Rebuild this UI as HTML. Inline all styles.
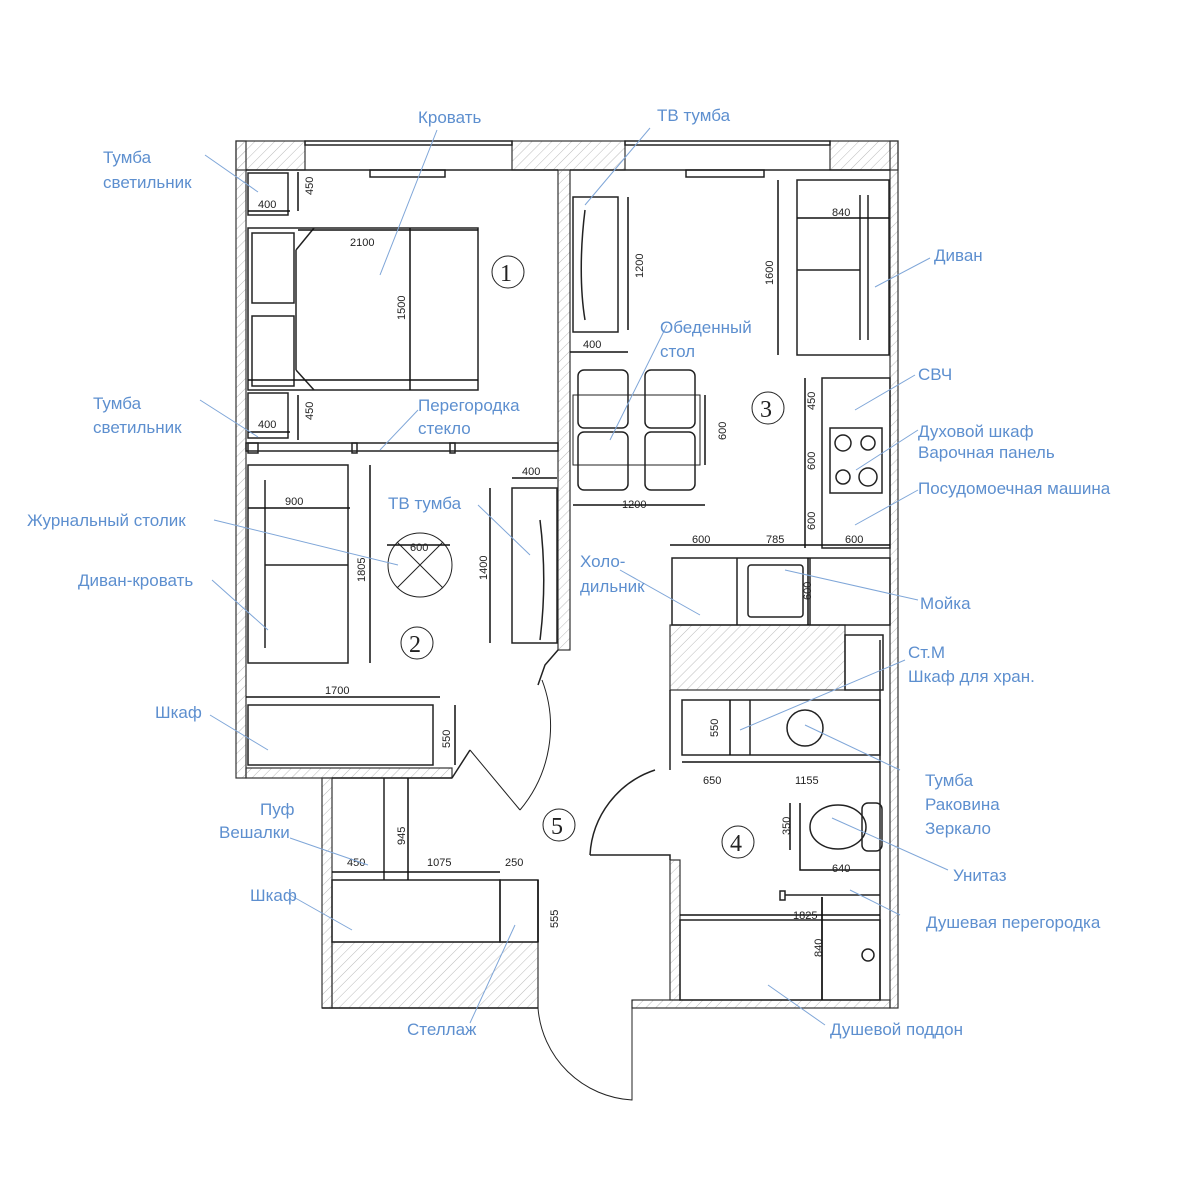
<!DOCTYPE html>
<html><head><meta charset="utf-8"><style>
html,body{margin:0;padding:0;background:#fff}
svg{display:block}
.l{font-family:"Liberation Sans",sans-serif;font-size:17px;fill:#5d8fcf}
.d{font-family:"Liberation Sans",sans-serif;font-size:11px;fill:#222}
.n{font-family:"Liberation Serif",serif;font-size:24px;fill:#222}
</style></head><body>
<svg width="1200" height="1189" viewBox="0 0 1200 1189" xmlns="http://www.w3.org/2000/svg">
<defs>
<pattern id="h" width="7" height="7" patternUnits="userSpaceOnUse" patternTransform="rotate(45)">
<line x1="0" y1="0" x2="0" y2="7" stroke="#bbb" stroke-width="1"/></pattern>
</defs>
<g stroke="#222" fill="none" stroke-width="1.5">
<!-- hatched walls -->
<g fill="url(#h)" stroke="#333" stroke-width="1.2">
<rect x="236" y="141" width="69" height="29"/>
<rect x="512" y="141" width="113" height="29"/>
<rect x="830" y="141" width="68" height="29"/>
<rect x="236" y="141" width="10" height="637"/>
<rect x="890" y="141" width="8" height="867"/>
<rect x="558" y="170" width="12" height="480"/>
<rect x="246" y="768" width="206" height="10"/>
<rect x="322" y="778" width="10" height="230"/>
<rect x="332" y="942" width="206" height="66"/>
<rect x="632" y="1000" width="258" height="8"/>
<rect x="670" y="625" width="175" height="65"/>
<rect x="670" y="860" width="10" height="140"/>
</g>
<!-- top windows -->
<rect x="305" y="141" width="207" height="4"/><rect x="625" y="141" width="205" height="4"/>
<rect x="370" y="170" width="75" height="7"/><rect x="686" y="170" width="78" height="7"/>
<line x1="246" y1="170" x2="558" y2="170"/><line x1="570" y1="170" x2="890" y2="170"/>
<!-- room1 furniture -->
<rect x="248" y="173" width="40" height="42"/><rect x="248" y="393" width="40" height="45"/>
<rect x="248" y="228" width="230" height="162"/>
<rect x="252" y="233" width="42" height="70"/><rect x="252" y="316" width="42" height="70"/>
<path d="M296 250 L314 228 M296 370 L314 390 M296 250 V370"/>
<!-- glass partition -->
<rect x="246" y="443" width="312" height="8"/>
<rect x="248" y="443" width="10" height="10"/><rect x="352" y="443" width="5" height="10"/><rect x="450" y="443" width="5" height="10"/>
<!-- room 2 -->
<rect x="248" y="465" width="100" height="198"/><line x1="265" y1="480" x2="265" y2="648"/><line x1="265" y1="565" x2="348" y2="565"/>
<circle cx="420" cy="565" r="32" stroke-width="1"/><path d="M397 542 L443 588 M443 542 L397 588" stroke-width="1"/>
<rect x="512" y="488" width="45" height="155"/>
<path d="M540 520 C545 560 545 600 540 640"/>
<rect x="248" y="705" width="185" height="60"/>
<path d="M558 650 L545 665 L538 685 M452 778 L470 750"/>
<path d="M470 750 L520 810 M542 680 A130 130 0 0 1 520 810" stroke-width="1"/>
<!-- room 3 -->
<rect x="573" y="197" width="45" height="135"/><path d="M585 210 C580 250 580 290 585 320"/>
<rect x="797" y="180" width="92" height="175"/><line x1="860" y1="195" x2="860" y2="340"/><line x1="868" y1="195" x2="868" y2="340"/><line x1="797" y1="270" x2="860" y2="270"/>
<rect x="573" y="395" width="127" height="70" stroke-width="1"/>
<rect x="578" y="370" width="50" height="58" rx="6"/><rect x="645" y="370" width="50" height="58" rx="6"/>
<rect x="578" y="432" width="50" height="58" rx="6"/><rect x="645" y="432" width="50" height="58" rx="6"/>
<rect x="822" y="378" width="68" height="170"/><rect x="830" y="428" width="52" height="65"/>
<circle cx="843" cy="443" r="8"/><circle cx="868" cy="443" r="7"/><circle cx="843" cy="477" r="7"/><circle cx="868" cy="477" r="9"/>
<rect x="672" y="558" width="218" height="67"/><line x1="737" y1="558" x2="737" y2="625"/><line x1="810" y1="558" x2="810" y2="625"/>
<rect x="748" y="565" width="55" height="52" rx="3"/>
<rect x="845" y="635" width="38" height="55"/>
<!-- bathroom -->
<rect x="682" y="700" width="198" height="55"/><line x1="750" y1="700" x2="750" y2="755"/>
<circle cx="805" cy="728" r="18"/>
<line x1="670" y1="690" x2="670" y2="770"/><line x1="880" y1="640" x2="880" y2="1000"/>
<path d="M655 770 A95 95 0 0 0 590 855 M590 855 H670 V860"/>
<ellipse cx="838" cy="827" rx="28" ry="22"/><rect x="862" y="803" width="20" height="48" rx="6"/>
<line x1="785" y1="895" x2="880" y2="895"/><rect x="780" y="891" width="5" height="9"/>
<rect x="680" y="920" width="200" height="80"/>
<line x1="822" y1="897" x2="822" y2="1000"/>
<circle cx="868" cy="955" r="6"/>
<!-- hall -->
<rect x="332" y="880" width="168" height="62"/><rect x="500" y="880" width="38" height="62"/>
<line x1="384" y1="778" x2="384" y2="880"/>
<line x1="322" y1="1008" x2="538" y2="1008"/>
<path d="M538 1008 V1000 M632 1000 V1008 M538 1008 A100 100 0 0 0 632 1100 V1000" stroke-width="1"/>
<line x1="332" y1="778" x2="452" y2="778"/>
</g>
<!-- dimension lines -->
<g stroke="#111" stroke-width="1.5" fill="none">
<path d="M248 211 H290 M298 172 V211 M248 380 H478 M298 230 H478 M410 228 V390 M248 432 H290 M298 395 V440"/>
<path d="M248 508 H350 M370 465 V663 M387 545 H450 M490 488 V643 M512 478 H557"/>
<path d="M246 697 H440 M455 705 V765"/>
<path d="M628 197 V330 M570 352 H628 M778 180 V355 M797 218 H889 M705 395 V465 M573 505 H705 M805 378 V548 M670 545 H890"/>
<path d="M808 558 V625 M730 700 V755 M682 762 H880 M790 803 V850 M800 803 V870 H880 M680 915 H880 M822 897 V1000"/>
<path d="M408 778 V880 M332 872 H500 M538 880 V942"/>
</g>
<g class="d">
<text x="258" y="208">400</text><text x="258" y="428">400</text><text x="350" y="246">2100</text>
<text x="313" y="195" transform="rotate(-90 313 195)">450</text><text x="313" y="420" transform="rotate(-90 313 420)">450</text>
<text x="405" y="320" transform="rotate(-90 405 320)">1500</text>
<text x="285" y="505">900</text><text x="410" y="551">600</text><text x="522" y="475">400</text>
<text x="365" y="582" transform="rotate(-90 365 582)">1805</text><text x="487" y="580" transform="rotate(-90 487 580)">1400</text>
<text x="325" y="694">1700</text><text x="450" y="748" transform="rotate(-90 450 748)">550</text>
<text x="643" y="278" transform="rotate(-90 643 278)">1200</text><text x="583" y="348">400</text>
<text x="773" y="285" transform="rotate(-90 773 285)">1600</text><text x="832" y="216">840</text>
<text x="726" y="440" transform="rotate(-90 726 440)">600</text><text x="622" y="508">1200</text>
<text x="815" y="410" transform="rotate(-90 815 410)">450</text><text x="815" y="470" transform="rotate(-90 815 470)">600</text><text x="815" y="530" transform="rotate(-90 815 530)">600</text>
<text x="692" y="543">600</text><text x="766" y="543">785</text><text x="845" y="543">600</text>
<text x="811" y="600" transform="rotate(-90 811 600)">600</text>
<text x="718" y="737" transform="rotate(-90 718 737)">550</text><text x="703" y="784">650</text><text x="795" y="784">1155</text>
<text x="790" y="835" transform="rotate(-90 790 835)">350</text><text x="832" y="872">640</text><text x="793" y="919">1825</text>
<text x="822" y="957" transform="rotate(-90 822 957)">840</text>
<text x="405" y="845" transform="rotate(-90 405 845)">945</text><text x="347" y="866">450</text><text x="427" y="866">1075</text><text x="505" y="866">250</text>
<text x="558" y="928" transform="rotate(-90 558 928)">555</text>
</g>
<g stroke="#222" stroke-width="1" fill="#fff">
<circle cx="508" cy="272" r="16"/><circle cx="768" cy="408" r="16"/><circle cx="417" cy="643" r="16"/><circle cx="738" cy="842" r="16"/><circle cx="559" cy="825" r="16"/>
</g>
<g class="n"><text x="500" y="281">1</text><text x="760" y="417">3</text><text x="409" y="652">2</text><text x="730" y="851">4</text><text x="551" y="834">5</text></g>
<!-- leader lines -->
<g stroke="#7fa6d8" stroke-width="1" fill="none">
<path d="M205 155 L258 192 M200 400 L258 437 M437 130 L380 275 M650 128 L585 205 M930 258 L875 287 M667 325 L610 440 M418 410 L380 450 M478 505 L530 555 M214 520 L398 565 M212 580 L268 630 M210 715 L268 750 M915 375 L855 410 M918 430 L856 470 M918 490 L855 525 M620 570 L700 615 M918 600 L785 570 M905 660 L740 730 M900 770 L805 725 M948 870 L832 818 M900 915 L850 890 M825 1025 L768 985 M290 838 L368 865 M290 895 L352 930 M470 1023 L515 925"/>
</g>
<g class="l">
<text x="103" y="163">Тумба</text><text x="103" y="188">светильник</text>
<text x="418" y="123">Кровать</text><text x="657" y="121">ТВ тумба</text>
<text x="934" y="261">Диван</text>
<text x="93" y="409">Тумба</text><text x="93" y="433">светильник</text>
<text x="418" y="411">Перегородка</text><text x="418" y="434">стекло</text>
<text x="660" y="333">Обеденный</text><text x="660" y="357">стол</text>
<text x="918" y="380">СВЧ</text>
<text x="918" y="437">Духовой шкаф</text><text x="918" y="458">Варочная панель</text>
<text x="918" y="494">Посудомоечная машина</text>
<text x="388" y="509">ТВ тумба</text>
<text x="27" y="526">Журнальный столик</text>
<text x="580" y="567">Холо-</text><text x="580" y="592">дильник</text>
<text x="78" y="586">Диван-кровать</text>
<text x="920" y="609">Мойка</text>
<text x="908" y="658">Ст.М</text><text x="908" y="682">Шкаф для хран.</text>
<text x="155" y="718">Шкаф</text>
<text x="925" y="786">Тумба</text><text x="925" y="810">Раковина</text><text x="925" y="834">Зеркало</text>
<text x="260" y="815">Пуф</text><text x="219" y="838">Вешалки</text>
<text x="953" y="881">Унитаз</text>
<text x="250" y="901">Шкаф</text>
<text x="926" y="928">Душевая перегородка</text>
<text x="407" y="1035">Стеллаж</text>
<text x="830" y="1035">Душевой поддон</text>
</g>
</svg>
</body></html>
